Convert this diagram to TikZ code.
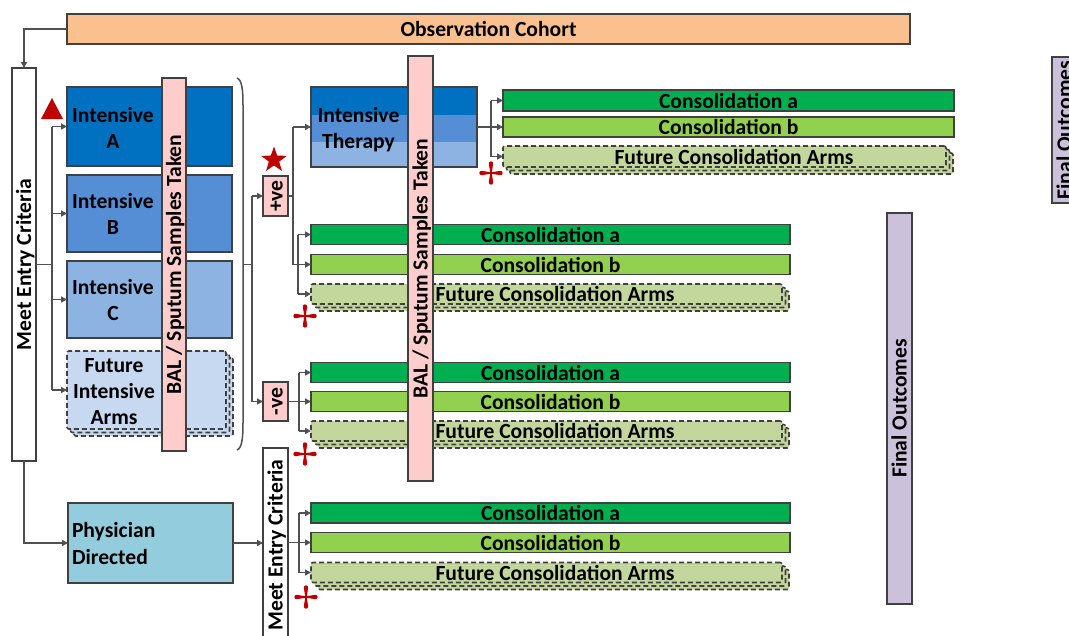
\documentclass[tikz,border=0pt]{standalone}
\usepackage{fontspec}
\setmainfont{Carlito}
\usetikzlibrary{arrows.meta,shapes.geometric,calc}
\definecolor{edgec}{HTML}{404040}
\definecolor{linec}{HTML}{505050}
\definecolor{obsc}{HTML}{FAC090}
\definecolor{intAc}{HTML}{0070C0}
\definecolor{intBc}{HTML}{558ED5}
\definecolor{intCc}{HTML}{8DB3E2}
\definecolor{futIc}{HTML}{C6D9F1}
\definecolor{pinkc}{HTML}{FFCCCC}
\definecolor{cgac}{HTML}{00B050}
\definecolor{cgbc}{HTML}{92D050}
\definecolor{cgfc}{HTML}{C3D69B}
\definecolor{physc}{HTML}{93CDDD}
\definecolor{finc}{HTML}{CCC1DA}
\definecolor{redm}{HTML}{C00000}
\tikzset{
  txt/.style={font=\bfseries\fontsize{21.6}{26}\selectfont},
  box/.style={draw=edgec, line width=1.6pt, inner sep=0pt, outer sep=0pt, rectangle, txt},
  futbox/.style={box, dash pattern=on 5pt off 3pt, rounded corners=2pt},
  lbl/.style={inner sep=0pt, outer sep=0pt, anchor=base, txt},
  rot/.style={rotate=90, text height=14pt, text depth=0pt},
  ln/.style={draw=linec, line width=1.5pt},
  arr/.style={draw=linec, line width=1.5pt, -{Triangle[length=6pt,width=6pt]}},
  redcross/.pic={\foreach \a in {0,90,180,270}{\fill[redm,rotate=\a] (-0.7,0) -- (-2.2,9.5) arc[start angle=180,end angle=0,radius=2.2] -- (0.7,0) -- cycle;}}
}
\begin{document}
\begin{tikzpicture}[x=1pt,y=-1pt]
\useasboundingbox (0,0) rectangle (1069,635);
\clip (0,0) rectangle (1069,635);
\fill[white] (0,0) rectangle (1069,635);

% top
\node[box, fill=obsc, minimum width=843pt, minimum height=30pt] (obs) at (488.5,29) {Observation Cohort};
\node[box, fill=white, minimum width=24pt, minimum height=393pt] (mec1) at (24,264.5) {};
\node[txt, rot, inner sep=0pt] (mec1t) at (mec1.center) {Meet Entry Criteria};

% intensive arms
\node[box, fill=intAc, minimum width=165pt, minimum height=79pt] (intA) at (149.5,126.5) {};
\node[box, fill=intBc, minimum width=165pt, minimum height=77pt] (intB) at (149.5,213.5) {};
\node[box, fill=intCc, minimum width=165pt, minimum height=77pt] (intC) at (149.5,299.5) {};
\node[futbox, fill=futIc, minimum width=159pt, minimum height=78pt] (futI3) at (153.5,397) {};
\node[futbox, fill=futIc, minimum width=159pt, minimum height=78pt] (futI2) at (150,393.5) {};
\node[futbox, fill=futIc, minimum width=159pt, minimum height=78pt] (futI) at (146.5,390) {};
\node[lbl] (intA1) at (113,122) {Intensive};
\node[lbl] (intA2) at (113,148) {A};
\node[lbl] (intB1) at (113,208) {Intensive};
\node[lbl] (intB2) at (113,234) {B};
\node[lbl] (intC1) at (113,294) {Intensive};
\node[lbl] (intC2) at (113,320) {C};
\node[lbl] (futI1t) at (114,372) {Future};
\node[lbl] (futI2t) at (114,398) {Intensive};
\node[lbl] (futI3t) at (114,424) {Arms};
\node[box, fill=pinkc, minimum width=24pt, minimum height=373pt] (bal1) at (174,264.5) {};
\node[txt, rot, inner sep=0pt] (bal1t) at (bal1.center) {BAL / Sputum Samples Taken};

% red triangle
\fill[redm] (52,98) -- (63,119) -- (41,119) -- cycle;

% bracket
\draw[ln] (237,78) .. controls (242,80) and (243,90) .. (243,105) -- (243,423) .. controls (243,438) and (242,448) .. (237,450);
\coordinate (brk) at (243,264.5);
\coordinate (j2) at (252,264.5);

% +ve / -ve
\node[box, fill=pinkc, minimum width=25pt, minimum height=40pt] (pos) at (275.5,196) {};
\node[txt, rot, inner sep=0pt] (post) at (pos.center) {+ve};
\node[box, fill=pinkc, minimum width=25pt, minimum height=39pt] (neg) at (275.5,401.5) {};
\node[txt, rot, inner sep=0pt] (negt) at (neg.center) {-ve};
\node[star, star points=5, star point ratio=2.5, fill=redm, minimum size=27pt, inner sep=0pt] (star) at (274,160) {};

% intensive therapy
\fill[intAc] (311,87) rectangle (477,115);
\fill[intBc] (311,115) rectangle (477,142);
\fill[intCc] (311,142) rectangle (477,167);
\node[box, minimum width=166pt, minimum height=80pt] (it) at (394,127) {};
\node[lbl] (it1) at (358.5,122) {Intensive};
\node[lbl] (it2) at (358.5,148) {Therapy};

% consolidation group 1
\node[box, fill=cgac, minimum width=451pt, minimum height=21pt] (c1a) at (728.5,100.5) {Consolidation a};
\node[box, fill=cgbc, minimum width=451pt, minimum height=20pt] (c1b) at (728.5,127) {Consolidation b};
\node[futbox, fill=cgfc, minimum width=443pt, minimum height=21pt] (c1f3) at (731.5,163.5) {};
\node[futbox, fill=cgfc, minimum width=443pt, minimum height=21pt] (c1f2) at (728,160) {};
\node[futbox, fill=cgfc, minimum width=443pt, minimum height=21pt] (c1f) at (724.5,156.5) {};
\node[txt, inner sep=0pt] (c1ft) at (734,156.5) {Future Consolidation Arms};

% consolidation group 2
\node[box, fill=cgac, minimum width=479pt, minimum height=20pt] (c2a) at (550.5,234.5) {Consolidation a};
\node[box, fill=cgbc, minimum width=479pt, minimum height=20pt] (c2b) at (550.5,264.5) {Consolidation b};
\node[futbox, fill=cgfc, minimum width=471pt, minimum height=20pt] (c2f3) at (553.5,301) {};
\node[futbox, fill=cgfc, minimum width=471pt, minimum height=20pt] (c2f2) at (550,297.5) {};
\node[futbox, fill=cgfc, minimum width=471pt, minimum height=20pt] (c2f) at (546.5,294) {};
\node[txt, inner sep=0pt] (c2ft) at (555,294) {Future Consolidation Arms};

% consolidation group 3
\node[box, fill=cgac, minimum width=479pt, minimum height=20pt] (c3a) at (550.5,372.5) {Consolidation a};
\node[box, fill=cgbc, minimum width=479pt, minimum height=20pt] (c3b) at (550.5,401.5) {Consolidation b};
\node[futbox, fill=cgfc, minimum width=471pt, minimum height=20pt] (c3f3) at (553.5,438) {};
\node[futbox, fill=cgfc, minimum width=471pt, minimum height=20pt] (c3f2) at (550,434.5) {};
\node[futbox, fill=cgfc, minimum width=471pt, minimum height=20pt] (c3f) at (546.5,431) {};
\node[txt, inner sep=0pt] (c3ft) at (555,431) {Future Consolidation Arms};

% consolidation group 4
\node[box, fill=cgac, minimum width=479pt, minimum height=20pt] (c4a) at (550.5,513) {Consolidation a};
\node[box, fill=cgbc, minimum width=479pt, minimum height=20pt] (c4b) at (550.5,542.5) {Consolidation b};
\node[futbox, fill=cgfc, minimum width=471pt, minimum height=20pt] (c4f3) at (553.5,579.5) {};
\node[futbox, fill=cgfc, minimum width=471pt, minimum height=20pt] (c4f2) at (550,576) {};
\node[futbox, fill=cgfc, minimum width=471pt, minimum height=20pt] (c4f) at (546.5,572.5) {};
\node[txt, inner sep=0pt] (c4ft) at (555,572.5) {Future Consolidation Arms};

% second BAL bar
\node[box, fill=pinkc, minimum width=25pt, minimum height=425pt] (bal2) at (420.5,268.5) {};
\node[txt, rot, inner sep=0pt] (bal2t) at (bal2.center) {BAL / Sputum Samples Taken};

% physician directed
\node[box, fill=physc, minimum width=165pt, minimum height=80pt] (phys) at (150.5,543) {};
\node[lbl, anchor=base west] (phys1) at (72,537) {Physician};
\node[lbl, anchor=base west] (phys2) at (72,564) {Directed};
\node[box, fill=white, minimum width=25pt, minimum height=194pt] (mec2) at (275.5,545) {};
\node[txt, rot, inner sep=0pt] (mec2t) at (mec2.center) {Meet Entry Criteria};

% final outcomes
\node[box, fill=finc, minimum width=25pt, minimum height=391pt] (fo1) at (899.5,408.5) {};
\node[txt, rot, inner sep=0pt] (fo1t) at (fo1.center) {Final Outcomes};
\node[box, fill=finc, minimum width=25pt, minimum height=146pt] (fo2) at (1064.5,130) {};
\node[txt, rot, inner sep=0pt] (fo2t) at (fo2.center) {Final Outcomes};

% connectors
\draw[arr] (obs.west) -| (mec1.north);
\coordinate (j1) at (52,264.5);
\draw[ln] (mec1.east) -- (j1);
\draw[ln] (j1 |- intA.west) -- (j1 |- futI.west);
\draw[arr] (j1 |- intA.west) -- (intA.west);
\draw[arr] (j1 |- intB.west) -- (intB.west);
\draw[arr] (j1 |- intC.west) -- (intC.west);
\draw[arr] (j1 |- futI.west) -- (futI.west);

\draw[ln] (brk) -- (j2);
\draw[ln] (j2 |- pos.west) -- (j2 |- neg.west);
\draw[arr] (j2 |- pos.west) -- (pos.west);
\draw[arr] (j2 |- neg.west) -- (neg.west);

\coordinate (j3) at (293,196);
\draw[ln] (pos.east) -- (j3);
\draw[ln] (j3 |- it.west) -- (j3 |- c2b.west);
\draw[arr] (j3 |- it.west) -- (it.west);
\draw[arr] (j3 |- c2b.west) -- (c2b.west);
\coordinate (j4) at (298,264.5);
\draw[ln] (j4 |- c2a.west) -- (j4 |- c2f.west);
\draw[arr] (j4 |- c2a.west) -- (c2a.west);
\draw[arr] (j4 |- c2f.west) -- (c2f.west);

\coordinate (j5) at (491,127);
\draw[arr] (it.east) -- (c1b.west);
\draw[ln] (j5 |- c1a.west) -- (j5 |- c1f.west);
\draw[arr] (j5 |- c1a.west) -- (c1a.west);
\draw[arr] (j5 |- c1f.west) -- (c1f.west);

\coordinate (j6) at (299,401.5);
\draw[arr] (neg.east) -- (c3b.west);
\draw[ln] (j6 |- c3a.west) -- (j6 |- c3f.west);
\draw[arr] (j6 |- c3a.west) -- (c3a.west);
\draw[arr] (j6 |- c3f.west) -- (c3f.west);

\draw[arr] (mec1.south) |- (phys.west);
\draw[arr] (phys.east) -- (phys.east -| mec2.west);
\coordinate (j7) at (299,542.5);
\draw[arr] (mec2.east |- c4b.west) -- (c4b.west);
\draw[ln] (j7 |- c4a.west) -- (j7 |- c4f.west);
\draw[arr] (j7 |- c4a.west) -- (c4a.west);
\draw[arr] (j7 |- c4f.west) -- (c4f.west);

% red crosses
\pic at (491,173) {redcross};
\pic at (305,316) {redcross};
\pic at (305,454) {redcross};
\pic at (306,597) {redcross};
\end{tikzpicture}
\end{document}
